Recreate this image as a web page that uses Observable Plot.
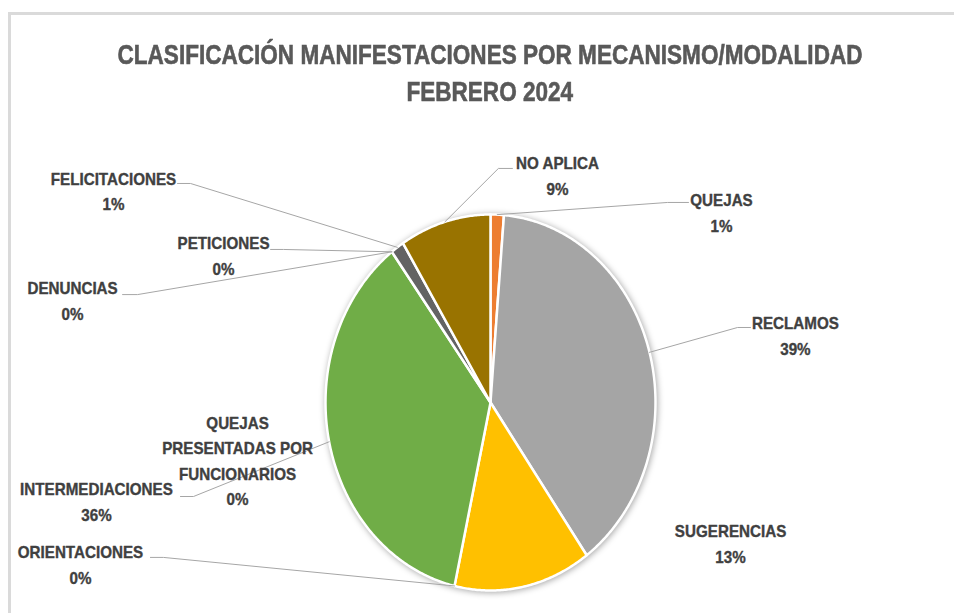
<!DOCTYPE html>
<html>
<head>
<meta charset="utf-8">
<script src="https://cdn.jsdelivr.net/npm/d3@7"></script>
<script src="https://cdn.jsdelivr.net/npm/@observablehq/plot@0.6"></script>
<style>
  html, body { margin: 0; padding: 0; background: #fff; overflow: hidden; }
  body { width: 954px; height: 613px; position: relative; font-family: "Liberation Sans", Arial, sans-serif; }
  #frame { position: absolute; left: 8px; top: 12px; width: 1000px; height: 700px; border: 3px solid #dadada; box-sizing: border-box; }
  #title { position: absolute; left: 0; top: 37px; width: 980px; text-align: center; color: #595959; font-weight: bold; font-size: 27px; line-height: 37px; -webkit-text-stroke: 0.6px #595959; }
  #title span { display: inline-block; white-space: nowrap; transform-origin: 50% 50%; }
  #chart { position: absolute; left: 0; top: 120px; width: 954px; }
</style>
</head>
<body>
<div id="frame"></div>
<div id="title"><span id="t1">CLASIFICACIÓN MANIFESTACIONES POR MECANISMO/MODALIDAD</span><br><span id="t2">FEBRERO 2024</span></div>
<div id="chart"></div>
<script>
// ---- data ----
const categories = ["QUEJAS", "RECLAMOS", "SUGERENCIAS", "ORIENTACIONES", "QUEJAS PRESENTADAS POR FUNCIONARIOS", "INTERMEDIACIONES", "DENUNCIAS", "PETICIONES", "FELICITACIONES", "NO APLICA"];
const values = [1.3, 38.8, 13.4, 0, 0, 36.3, 0, 0, 1.3, 8.9];
const colors = ["#ED7D31", "#A5A5A5", "#FFC000", "#5B9BD5", "#4472C4", "#70AD47", "#264478", "#9E480E", "#636363", "#997300"];

// ---- label layout (in pie-radius units; not data) ----
const labelLayout = {
  "QUEJAS": {at: [1.40, 1.020], tick: [1.200, 1.073, 1.064]},
  "RECLAMOS": {at: [1.848, 0.365], tick: [1.576, 1.497, 0.399]},
  "SUGERENCIAS": {at: [1.455, -0.740], tick: null},
  "ORIENTACIONES": {at: [-2.485, -0.852], tick: [-2.061, -1.982, -0.824]},
  "QUEJAS PRESENTADAS POR FUNCIONARIOS": {at: [-1.533, -0.300], tick: null, text: "QUEJAS\nPRESENTADAS POR\nFUNCIONARIOS"},
  "INTERMEDIACIONES": {at: [-2.388, -0.517], tick: [-1.879, -1.800, -0.500]},
  "DENUNCIAS": {at: [-2.533, 0.552], tick: [-2.230, -2.139, 0.574]},
  "PETICIONES": {at: [-1.618, 0.791], tick: [-1.333, -1.255, 0.814]},
  "FELICITACIONES": {at: [-2.285, 1.135], tick: [-1.897, -1.818, 1.165]},
  "NO APLICA": {at: [0.406, 1.215], tick: [0.133, 0.048, 1.245]}
};

// pie geometry in page pixels (center and radii), SVG placed at top 120
const W = 954, H = 493, top0 = 120;
const cx = 490, cy = 402, rx = 165, ry = 188;
const xDomain = [-cx / rx, (W - cx) / rx];
const yDomain = [-(top0 + H - cy) / ry, (cy - top0) / ry];

const total = d3.sum(values);
let acc = 0;
const slices = categories.map((c, i) => {
  const a0 = acc / total * 2 * Math.PI;
  acc += values[i];
  const a1 = acc / total * 2 * Math.PI;
  return {c, v: values[i], a0, a1, mid: (a0 + a1) / 2};
});

const polys = slices.filter(s => s.v > 0).flatMap(s => {
  const n = Math.max(2, Math.ceil((s.a1 - s.a0) / (Math.PI / 360)));
  const pts = [{c: s.c, u: 0, v: 0}];
  for (let k = 0; k <= n; k++) {
    const a = s.a0 + (s.a1 - s.a0) * k / n;
    pts.push({c: s.c, u: Math.sin(a), v: Math.cos(a)});
  }
  return pts;
});

const labels = slices.map(s => {
  const L = labelLayout[s.c];
  const pct = Math.round(s.v / total * 100) + "%";
  return {c: s.c, u: L.at[0], v: L.at[1], text: (L.text || s.c) + "\n" + pct};
});

const leaders = slices.filter(s => labelLayout[s.c].tick).flatMap(s => {
  const t = labelLayout[s.c].tick;
  return [
    {c: s.c, u: t[0], v: t[2]},
    {c: s.c, u: t[1], v: t[2]},
    {c: s.c, u: Math.sin(s.mid), v: Math.cos(s.mid)}
  ];
});

const chart = Plot.plot({
  width: W,
  height: H,
  margin: 0,
  x: {domain: xDomain, axis: null},
  y: {domain: yDomain, axis: null},
  color: {domain: categories, range: colors},
  style: {fontFamily: "'Liberation Sans', Arial, sans-serif", background: "none", overflow: "visible"},
  marks: [
    Plot.line(polys, {x: "u", y: "v", z: "c", fill: "c", stroke: "#ffffff", strokeWidth: 2.5, curve: "linear-closed"}),
    Plot.line(leaders, {x: "u", y: "v", z: "c", stroke: "#a6a6a6", strokeWidth: 1}),
    Plot.text(labels, {x: "u", y: "v", text: "text", fontSize: 16, fontWeight: "bold", fill: "#404040", stroke: "#404040", strokeWidth: 0.35, lineHeight: 1.6, textAnchor: "middle"})
  ]
});
document.getElementById("chart").appendChild(chart);

// soft shadow around the pie
const pieG = chart.querySelector('g[aria-label="line"]');
if (pieG) pieG.style.filter = "drop-shadow(1px 1px 3px rgba(0,0,0,0.35))";

// narrow the label glyphs slightly (Calibri-like proportions)
chart.querySelectorAll('g[aria-label="text"] text').forEach(t => {
  const tr = t.getAttribute("transform");
  if (tr) t.setAttribute("transform", tr + " scale(0.95,1)");
});

// fit title widths
const t1 = document.getElementById("t1"), t2 = document.getElementById("t2");
const k = 745 / t1.getBoundingClientRect().width;
t1.style.transform = `scaleX(${k})`;
t2.style.transform = `scaleX(${k})`;
</script>
</body>
</html>
